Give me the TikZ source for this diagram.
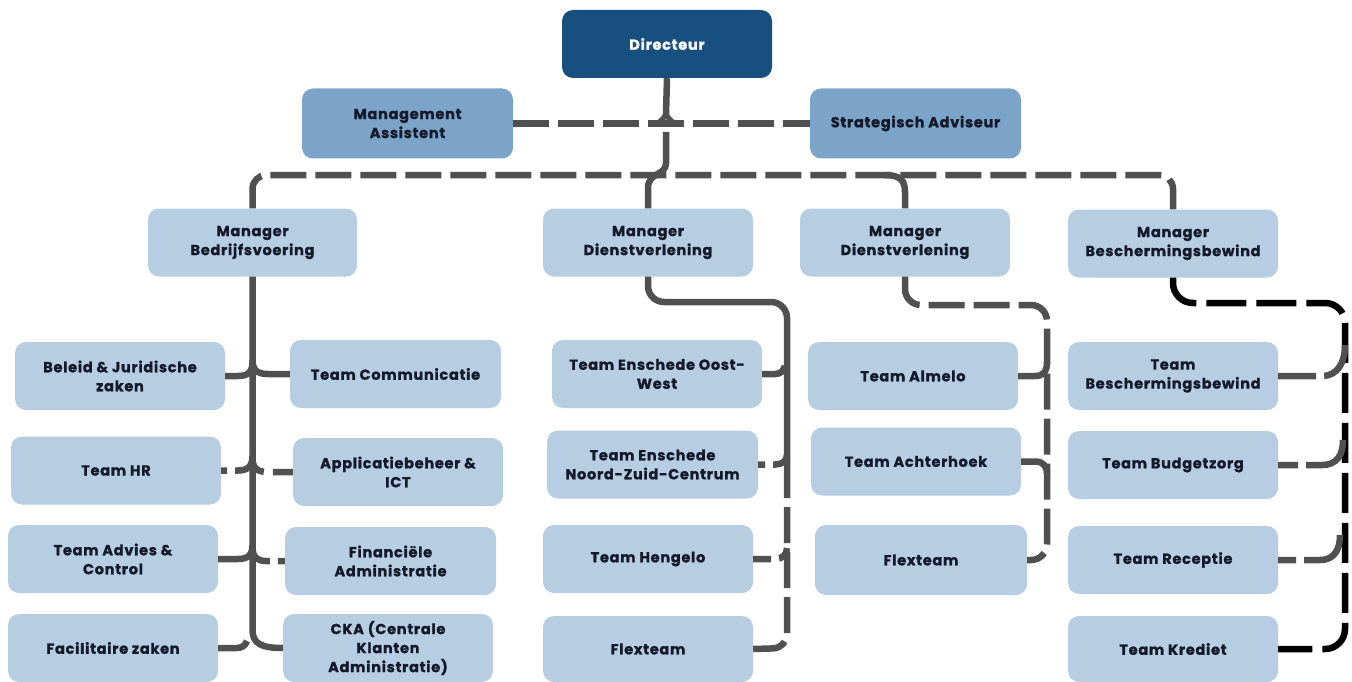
\documentclass[tikz,border=0pt]{standalone}
\usepackage{fontspec}
\setmainfont{Poppins}[LetterSpace=5, BoldFeatures={FakeBold=1.2}]
\definecolor{boxlight}{HTML}{B7CDE1}
\definecolor{boxmid}{HTML}{7CA4C9}
\definecolor{boxdark}{HTML}{17507F}
\definecolor{txt}{HTML}{141A2A}
\definecolor{lgray}{HTML}{505050}
\begin{document}
\begin{tikzpicture}[x=1pt,y=-1pt,
  box/.style={rectangle, rounded corners=11pt, fill=boxlight, minimum width=210pt,
    minimum height=68pt, align=center, inner sep=2pt, text=txt,
    font=\fontsize{14.5}{19}\selectfont\bfseries},
  midbox/.style={box, fill=boxmid, minimum height=70pt},
  topbox/.style={box, fill=boxdark, text=white},
  conn/.style={line width=6.5pt, draw=lgray},
  dsh/.style={conn, dash pattern=on 36pt off 9pt},
  bdsh/.style={line width=6.5pt, draw=black, dash pattern=on 40pt off 10pt}]
\useasboundingbox (0,0) rectangle (1352,682);
\fill[white] (0,0) rectangle (1352,682);

% top
\node[topbox] (dir) at (667,44) {Directeur};
\node[midbox, minimum width=211pt] (ma) at (407.5,123.5) {Management\\Assistent};
\node[midbox, minimum width=211pt] (sa) at (915.5,123.5) {Strategisch Adviseur};
% managers
\node[box, minimum width=209pt] (mb) at (252.5,242.5) {Manager\\Bedrijfsvoering};
\node[box] (md1) at (648,242.5) {Manager\\Dienstverlening};
\node[box] (md2) at (905,242.5) {Manager\\Dienstverlening};
\node[box] (mbw) at (1173,243.5) {Manager\\Beschermingsbewind};
% left column
\node[box] (beleid) at (120,376) {Beleid \& Juridische\\zaken};
\node[box, minimum width=211pt] (comm) at (395.5,374) {Team Communicatie};
\node[box] (hr) at (116,470.5) {Team HR};
\node[box] (app) at (398,472) {Applicatiebeheer \&\\ICT};
\node[box] (advies) at (113,559) {Team Advies \&\\Control};
\node[box, minimum width=211pt] (fin) at (390.5,561) {Financiële\\Administratie};
\node[box] (fac) at (113,648) {Facilitaire zaken};
\node[box] (cka) at (388,648) {CKA (Centrale\\Klanten\\Administratie)};
% middle column
\node[box] (teow) at (657,374) {Team Enschede Oost-\\West};
\node[box, minimum width=211pt] (tnzc) at (652.5,464.5) {Team Enschede\\Noord-Zuid-Centrum};
\node[box] (hengelo) at (648,559) {Team Hengelo};
\node[box, minimum height=66pt] (flex1) at (648,649) {Flexteam};
% D2 column
\node[box] (almelo) at (913,376) {Team Almelo};
\node[box] (achter) at (916,461.5) {Team Achterhoek};
\node[box, minimum width=212pt, minimum height=70pt] (flex2) at (921,560) {Flexteam};
% BW column
\node[box] (tbw) at (1173,376) {Team\\Beschermingsbewind};
\node[box] (budget) at (1173,465) {Team Budgetzorg};
\node[box] (receptie) at (1173,560) {Team Receptie};
\node[box, minimum height=66pt] (krediet) at (1173,649) {Team Krediet};

% Directeur line
\draw[conn] (dir.south) -- (666,114);
\draw[conn, line width=5pt] (666,110) .. controls (666,118) and (662,119) .. (657,124);
\draw[conn, line width=5pt] (666,110) .. controls (666,118) and (670,119) .. (675,124);
\draw[dsh] (ma.east) -- (sa.west);
\draw[conn] (666,132) -- (666,163) .. controls (666,176) and (648,172) .. (648,188) -- (md1.north);
% bus
\draw[dsh, rounded corners=14pt] (mb.north) -- (252.5,175) -- (1173,175) -- (mbw.north);
\draw[conn] (884,175) .. controls (900,175) and (905,180) .. (905,192) -- (md2.north);

% left trunk
\draw[conn] (mb.south) -- (252.5,630) .. controls (252.5,644) and (262,648) .. (cka.west);
\draw[conn] (beleid.east) -- (238,376) .. controls (248,376) and (252.5,372) .. (252.5,362);
\draw[conn] (comm.west) -- (268,374) .. controls (257,374) and (252.5,370) .. (252.5,360);
\draw[conn, dash pattern=on 6pt off 8pt on 40pt] (hr.east) -- (238,470.5) .. controls (248,470.5) and (252.5,466) .. (252.5,456);
\draw[conn, dash pattern=on 20pt off 9pt on 40pt] (app.west) -- (268,472) .. controls (257,472) and (252.5,468) .. (252.5,458);
\draw[conn] (advies.east) -- (238,559) .. controls (248,559) and (252.5,555) .. (252.5,545);
\draw[conn, dash pattern=on 7pt off 8pt on 40pt] (fin.west) -- (266,561) .. controls (257,561) and (252.5,557) .. (252.5,547);
\draw[conn] (fac.east) -- (236,648) .. controls (242,648) and (245,646) .. (247,641);

% middle trunk
\draw[conn, rounded corners=16pt] (md1.south) -- (648,302) -- (787,302) -- (787,462);
\draw[dsh, rounded corners=14pt] (787,462) -- (787,648) -- (flex1.east);
\draw[conn] (teow.east) -- (775,374) .. controls (781,374) and (783,371) .. (785,366);
\draw[conn, dash pattern=on 7pt off 8pt on 40pt] (tnzc.east) -- (775,464.5) .. controls (782,464.5) and (787,461) .. (787,455);
\draw[conn, dash pattern=on 18pt off 8pt on 40pt] (hengelo.east) -- (775,559) .. controls (782,559) and (787,555) .. (787,548);

% D2 trunk
\draw[dsh, rounded corners=16pt] (md2.south) -- (905,305) -- (1047,305) -- (1047,560) -- (flex2.east);
\draw[conn] (almelo.east) -- (1035,376) .. controls (1043,376) and (1047,372) .. (1047,362);
\draw[conn] (achter.east) -- (1035,461.5) .. controls (1043,461.5) and (1047,466) .. (1047,474);

% BW trunk
\draw[bdsh, rounded corners=20pt] (mbw.south) -- (1173,303) -- (1345,303) -- (1345,649) -- (krediet.east);
\draw[conn, dash pattern=on 38pt off 8pt on 60pt] (tbw.east) -- (1322,376) .. controls (1338,376) and (1345,362) .. (1345,345);
\draw[conn, dash pattern=on 20pt off 8pt on 60pt] (budget.east) -- (1322,465) .. controls (1337,465) and (1343,455) .. (1343,440);
\draw[conn, dash pattern=on 18pt off 8pt on 60pt] (receptie.east) -- (1320,560) .. controls (1334,560) and (1340,550) .. (1340,535);
\end{tikzpicture}
\end{document}
